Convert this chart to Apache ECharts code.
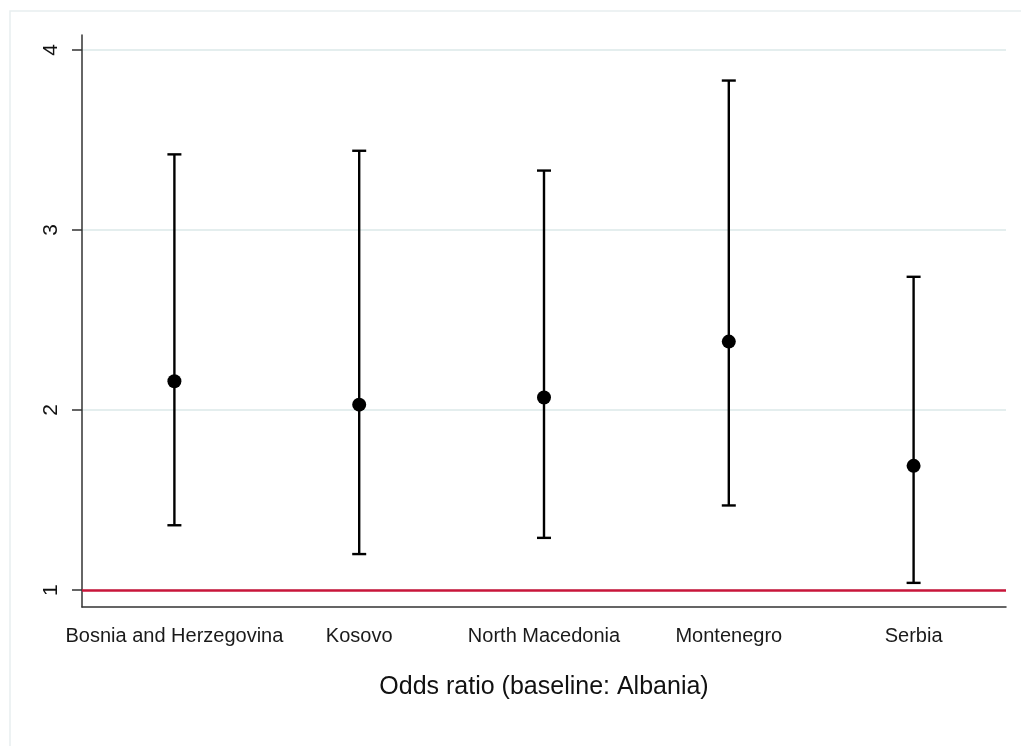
<!DOCTYPE html>
<html>
<head>
<meta charset="utf-8">
<script src="https://cdn.jsdelivr.net/npm/echarts@6/dist/echarts.min.js"></script>
<style>
  html, body { margin: 0; padding: 0; background: #ffffff; overflow: hidden; }
  #chart { width: 1021px; height: 746px; }
</style>
</head>
<body>
<div id="chart"></div>
<script>
// Odds ratios with 95% confidence intervals, baseline country: Albania
const countries = ['Bosnia and Herzegovina', 'Kosovo', 'North Macedonia', 'Montenegro', 'Serbia'];
const oddsRatio = [2.16, 2.03, 2.07, 2.38, 1.69];
const ciLower = [1.36, 1.20, 1.29, 1.47, 1.04];
const ciUpper = [3.42, 3.44, 3.33, 3.83, 2.74];
const yTicks = [1, 2, 3, 4];
const referenceValue = 1;

const chart = echarts.init(document.getElementById('chart'));

const intervalData = countries.map((c, i) => [i, ciLower[i], ciUpper[i]]);
const pointData = countries.map((c, i) => [i, oddsRatio[i]]);

const font = 'Liberation Sans, Arial, sans-serif';

chart.setOption({
  backgroundColor: '#ffffff',
  animation: false,
  graphic: [{
    // outer frame, running off the right and bottom edges
    type: 'rect',
    left: 7.5, top: 8.5,
    shape: { width: 1100, height: 800 },
    style: { fill: 'none', stroke: '#e8eef0', lineWidth: 1.5 },
    silent: true,
    z: -1
  }],
  grid: { left: 82, right: 15, top: 35, bottom: 139 },
  xAxis: {
    type: 'category',
    data: countries,
    boundaryGap: true,
    name: 'Odds ratio (baseline: Albania)',
    nameLocation: 'middle',
    nameGap: 68,
    nameTextStyle: { fontFamily: font, fontSize: 25, color: '#111' },
    axisLine: { lineStyle: { color: '#333', width: 1.5 } },
    axisTick: { alignWithLabel: true, length: 10, lineStyle: { color: '#333', width: 1.5 } },
    axisLabel: { fontFamily: font, fontSize: 20, color: '#1a1a1a', margin: 19, interval: 0 },
    splitLine: { show: false }
  },
  yAxis: {
    type: 'value',
    min: 0.906,
    max: 4.083,
    axisLine: { show: true, lineStyle: { color: '#333', width: 1.5 } },
    axisTick: { show: true, length: 10, customValues: yTicks, lineStyle: { color: '#333', width: 1.5 } },
    axisLabel: { customValues: yTicks, rotate: 90, fontFamily: font, fontSize: 21, color: '#111', margin: 20 },
    splitLine: { show: true, lineStyle: { color: '#e4eeee', width: 2 } }
  },
  series: [
    {
      type: 'custom',
      name: 'CI',
      data: intervalData,
      encode: { x: 0, y: [1, 2] },
      renderItem: function (params, api) {
        const x = api.value(0);
        const lo = api.coord([x, api.value(1)]);
        const hi = api.coord([x, api.value(2)]);
        const half = 7;
        const style = { stroke: '#000', lineWidth: 2.4 };
        return {
          type: 'group',
          children: [
            { type: 'line', shape: { x1: lo[0], y1: lo[1], x2: hi[0], y2: hi[1] }, style: style },
            { type: 'line', shape: { x1: lo[0] - half, y1: lo[1], x2: lo[0] + half, y2: lo[1] }, style: style },
            { type: 'line', shape: { x1: hi[0] - half, y1: hi[1], x2: hi[0] + half, y2: hi[1] }, style: style }
          ]
        };
      },
      z: 3
    },
    {
      type: 'scatter',
      name: 'Odds ratio',
      data: pointData,
      symbol: 'circle',
      symbolSize: 14,
      itemStyle: { color: '#000', opacity: 1 },
      z: 4,
      markLine: {
        silent: true,
        symbol: 'none',
        label: { show: false },
        lineStyle: { color: '#c8163a', width: 2.5, type: 'solid', opacity: 1 },
        data: [{ yAxis: referenceValue }]
      }
    }
  ]
});
</script>
</body>
</html>
